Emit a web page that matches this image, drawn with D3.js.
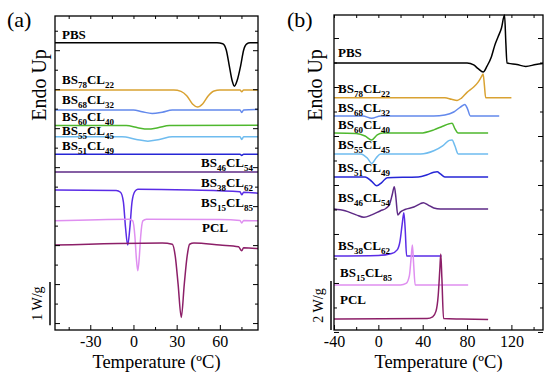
<!DOCTYPE html>
<html>
<head>
<meta charset="utf-8">
<script src="https://cdn.jsdelivr.net/npm/d3@7"></script>
<style>
  body { margin: 0; background: #fff; }
  svg { display: block; }
  svg text { font-family: "Liberation Serif", "Times New Roman", serif; fill: #000; }
  .lbl { font-weight: bold; font-size: 13px; }
</style>
</head>
<body>
<div id="chart"></div>
<script>
// sample compositions (BS / CL share), null -> homopolymer
var bsShare = [null, 78, 68, 60, 55, 51, 46, 38, 15, null];
var clShare = [null, 22, 32, 40, 45, 49, 54, 62, 85, null];
var homoNames = ["PBS", null, null, null, null, null, null, null, null, "PCL"];
var curveColors = ["#000000", "#d9a232", "#6389ec", "#4fb82e", "#6fbcef",
                   "#2626d6", "#5e2a86", "#5a2ce6", "#df8ff0", "#8c1f68"];

// (a) cooling / first scan: [temperature ºC, heat flow W/g, stacked]
var aPBS  = [[-54.5,6.47],[58,6.47],[62,6.45],[64.5,6.3],[66.5,5.95],[68.5,5.6],[70.1,5.47],[72,5.6],[74.5,5.95],[76.5,6.3],[78.5,6.44],[81,6.47],[86.5,6.47]];
var aB78  = [[-54.5,5.38],[28,5.38],[33,5.35],[37,5.25],[41,5.06],[44.5,4.99],[48,5.06],[52,5.25],[56,5.36],[60,5.38],[74,5.38],[75.2,5.34],[76.5,5.38],[86.5,5.38]];
var aB68  = [[-54.5,4.92],[0,4.92],[6,4.88],[13,4.84],[20,4.87],[27,4.92],[74,4.92],[75.2,4.86],[76.5,4.92],[86.5,4.93]];
var aB60  = [[-54.5,4.56],[-5,4.56],[3,4.51],[10,4.48],[17,4.51],[25,4.56],[86.5,4.57]];
var aB55  = [[-54.5,4.30],[-8,4.30],[2,4.24],[10,4.20],[18,4.24],[27,4.30],[74,4.30],[75.2,4.24],[76.5,4.30],[86.5,4.30]];
var aB51  = [[-54.5,3.90],[74,3.90],[75.2,3.87],[76.5,3.90],[86.5,3.90]];
var aB46  = [[-54.5,3.49],[86.5,3.49]];
var aB38  = [[-54.5,3.07],[-12,3.06],[-9,3.02],[-7,2.8],[-5.5,2.2],[-4,1.80],[-2.5,2.2],[-1,2.8],[1,3.04],[3,3.09],[40,3.07],[74,3.03],[75.2,2.96],[76.5,3.02],[86.5,3.0]];
var aB15  = [[-54.5,2.36],[-3,2.40],[-0.5,2.36],[1,2.0],[2,1.5],[3,1.21],[4,1.5],[5,2.0],[6.5,2.36],[9,2.40],[60,2.39],[74,2.37],[75.2,2.31],[76.5,2.37],[86.5,2.36]];
var aPCL  = [[-54.5,1.80],[20,1.85],[27,1.82],[29,1.55],[31,0.9],[33.2,0.13],[35.3,0.9],[37.3,1.55],[39,1.82],[42,1.85],[60,1.80],[73,1.76],[75.2,1.67],[76.5,1.74],[86.5,1.72]];

// (b) heating scan
var bPBS  = [[-40,10.98],[80,10.98],[86,10.9],[90,10.75],[94.5,10.61],[98,10.85],[102,11.24],[105,11.7],[108,12.05],[111,12.4],[113.8,12.94],[115,11.8],[116,10.98],[125,10.92],[133,10.84],[142,10.92],[148.5,10.96]];
var bB78  = [[-40,9.56],[60,9.56],[66,9.5],[71,9.45],[75,9.55],[80,9.78],[86,10.0],[90,10.2],[93,10.42],[94.5,10.53],[95.6,10.1],[96.8,9.56],[120,9.56]];
var bB68  = [[-40,8.82],[-14,8.82],[-6,8.72],[2,8.82],[50,8.82],[60,8.86],[68,8.98],[74,9.18],[78,9.29],[80.5,9.1],[83,8.82],[109,8.82]];
var bB60  = [[-40,8.12],[-20,8.1],[-12,8.0],[-6,7.84],[-1,8.05],[4,8.12],[38,8.12],[50,8.25],[58,8.4],[64,8.5],[66.5,8.52],[69,8.3],[72,8.12],[99,8.12]];
var bB55  = [[-40,7.27],[-16,7.27],[-10,7.1],[-6,6.88],[-2,7.1],[2,7.27],[38,7.27],[50,7.4],[58,7.6],[64,7.82],[66.5,7.84],[69,7.6],[72,7.27],[99,7.27]];
var bB51  = [[-40,6.33],[-12,6.33],[-6,6.15],[-1.5,5.97],[3,6.1],[8,6.3],[36,6.33],[44,6.42],[50,6.52],[53,6.54],[56,6.45],[60,6.33],[99,6.33]];
var bB46  = [[-40,5.02],[-30,4.95],[-20,4.78],[-13,4.68],[-6,4.78],[2,4.95],[7,5.05],[10,5.2],[12.5,5.6],[14.4,5.93],[15.8,5.5],[17.5,4.78],[20,4.9],[24,5.0],[32,5.1],[38,5.24],[40.5,5.28],[45,5.18],[50,5.06],[56,5.02],[99,5.02]];
var bB38  = [[-40,3.10],[0,3.12],[12,3.2],[17,3.35],[19.5,3.7],[21.5,4.4],[23,4.87],[24.2,4.2],[25.5,3.1],[57,3.1]];
var bB15  = [[-40,1.92],[20,1.92],[25,1.98],[28,2.3],[29.5,3.0],[30.7,3.55],[31.8,2.8],[33.2,1.92],[81,1.92]];
var bPCL  = [[-40,0.53],[44,0.55],[49,0.62],[52,0.85],[54,1.5],[55.5,2.6],[56.3,3.18],[57.3,2.2],[58.8,0.55],[75,0.53],[99,0.51]];

var seriesA = [aPBS, aB78, aB68, aB60, aB55, aB51, aB46, aB38, aB15, aPCL];
var seriesB = [bPBS, bB78, bB68, bB60, bB55, bB51, bB46, bB38, bB15, bPCL];

var xTicksA = [-30, 0, 30, 60];
var xTicksB = [-40, 0, 40, 80, 120];

// label placement (pixels) per panel: [x, baseline y, anchor]
var labelPosA = [[62,38.5,"start"],[62,84,"start"],[62,104,"start"],[62,121,"start"],[62,135,"start"],
                 [62,150,"start"],[253,167,"end"],[253,187,"end"],[253,207,"end"],[202,232,"start"]];
var labelPosB = [[338,57,"start"],[338,93,"start"],[338,111.5,"start"],[338,129,"start"],[338,148.5,"start"],
                 [338,172,"start"],[338,201.5,"start"],[338,250,"start"],[340,276.5,"start"],[340,304,"start"]];

var svg = d3.select("#chart").append("svg")
    .attr("width", 550)
    .attr("height", 378);

function drawPanel(p) {
    let x = d3.scaleLinear().domain(p.xDomain).range([p.left, p.right]);
    let y = d3.scaleLinear().domain(p.yDomain).range([p.bottom, p.top]);

    let line = d3.line()
        .x(d => x(d[0]))
        .y(d => y(d[1]))
        .curve(d3.curveMonotoneX);

    let clipId = "clip-" + p.tag;
    svg.append("clipPath").attr("id", clipId)
        .append("rect")
        .attr("x", p.left).attr("y", p.top - 1)
        .attr("width", p.right - p.left).attr("height", p.bottom - p.top + 1);

    svg.append("g")
        .attr("clip-path", "url(#" + clipId + ")")
        .selectAll("path")
        .data(p.series)
        .enter()
        .append("path")
        .attr("d", d => line(d))
        .attr("fill", "none")
        .attr("stroke", (d, i) => curveColors[i])
        .attr("stroke-width", 1.5);

    // ---- AXES ----
    let bottomAxis = svg.append("g")
        .attr("transform", "translate(0," + p.bottom + ")")
        .call(d3.axisBottom(x).tickValues(p.xTicks).tickSize(-5).tickSizeOuter(0).tickPadding(6)
            .tickFormat(d => String(d)));
    bottomAxis.selectAll("text").attr("font-size", 16);

    let xMinor = d3.range(p.xTicks[0] - p.xStep / 2, p.xDomain[1], p.xStep)
        .filter(v => v > p.xDomain[0] && v < p.xDomain[1]);
    let tickGroups = [];
    tickGroups.push(svg.append("g")
        .attr("transform", "translate(0," + p.bottom + ")")
        .call(d3.axisBottom(x).tickValues(xMinor).tickSize(-3).tickSizeOuter(0)));
    tickGroups.push(svg.append("g")
        .attr("transform", "translate(0," + p.top + ")")
        .call(d3.axisTop(x).tickValues(p.xTicks.concat(xMinor)).tickSize(-3).tickSizeOuter(0)));

    let yMajor = d3.range(0, p.yDomain[1], p.yStep * 2);
    let yMinor = d3.range(p.yStep, p.yDomain[1], p.yStep * 2);
    [[yMajor, 5], [yMinor, 3]].forEach(function(t) {
        tickGroups.push(svg.append("g")
            .attr("transform", "translate(" + p.left + ",0)")
            .call(d3.axisLeft(y).tickValues(t[0]).tickSize(-t[1]).tickSizeOuter(0)));
        tickGroups.push(svg.append("g")
            .attr("transform", "translate(" + p.right + ",0)")
            .call(d3.axisRight(y).tickValues(t[0]).tickSize(-t[1]).tickSizeOuter(0)));
    });
    // tick marks only, no labels on these
    tickGroups.forEach(g => g.selectAll("text").remove());

    svg.selectAll(".domain").attr("stroke", "none");
    svg.selectAll(".tick line").attr("stroke", "#000").attr("stroke-width", 1);

    // frame
    svg.append("rect")
        .attr("x", p.left).attr("y", p.top)
        .attr("width", p.right - p.left).attr("height", p.bottom - p.top)
        .attr("fill", "none").attr("stroke", "#000").attr("stroke-width", 1.3);

    // ---- CURVE LABELS ----
    p.labels.forEach(function(pos, i) {
        let t = svg.append("text")
            .attr("class", "lbl")
            .attr("x", pos[0]).attr("y", pos[1])
            .attr("text-anchor", pos[2]);
        if (homoNames[i]) {
            t.text(homoNames[i]);
        } else {
            t.append("tspan").text("BS");
            t.append("tspan").attr("font-size", 9).attr("dy", 4).text(bsShare[i]);
            t.append("tspan").attr("dy", -4).text("CL");
            t.append("tspan").attr("font-size", 9).attr("dy", 4).text(clShare[i]);
        }
    });

    // ---- SCALE BAR ----
    svg.append("line")
        .attr("x1", p.barX).attr("x2", p.barX)
        .attr("y1", y(p.barFrom)).attr("y2", y(p.barFrom + p.barValue))
        .attr("stroke", "#000").attr("stroke-width", 1.5);
    svg.append("text")
        .attr("transform", "translate(" + (p.barX - 8) + "," + ((y(p.barFrom) + y(p.barFrom + p.barValue)) / 2) + ") rotate(-90)")
        .attr("text-anchor", "middle")
        .attr("font-size", 14)
        .text(p.barValue + " W/g");

    // ---- TITLES ----
    svg.append("text")
        .attr("transform", "translate(" + p.endoX + ",85) rotate(-90)")
        .attr("text-anchor", "middle")
        .attr("font-size", 20)
        .text("Endo Up");

    svg.append("text")
        .attr("x", (p.left + p.right) / 2)
        .attr("y", 368)
        .attr("text-anchor", "middle")
        .attr("font-size", 18.5)
        .text("Temperature (ºC)");

    svg.append("text")
        .attr("x", p.tagX).attr("y", 27)
        .attr("font-size", 22)
        .text("(" + p.tag + ")");
}

drawPanel({
    tag: "a", tagX: 7,
    left: 55, right: 258, top: 16, bottom: 330,
    xDomain: [-54.5, 86.5], yDomain: [-0.16, 7.09],
    xTicks: xTicksA, xStep: 30, yStep: 0.45,
    series: seriesA, labels: labelPosA,
    barX: 50, barFrom: -0.05, barValue: 1, endoX: 46
});

drawPanel({
    tag: "b", tagX: 287,
    left: 334, right: 543, top: 15, bottom: 330,
    xDomain: [-40, 148.5], yDomain: [0.08, 12.94],
    xTicks: xTicksB, xStep: 40, yStep: 1,
    series: seriesB, labels: labelPosB,
    barX: 331, barFrom: 0.08, barValue: 2, endoX: 322
});
</script>
</body>
</html>
